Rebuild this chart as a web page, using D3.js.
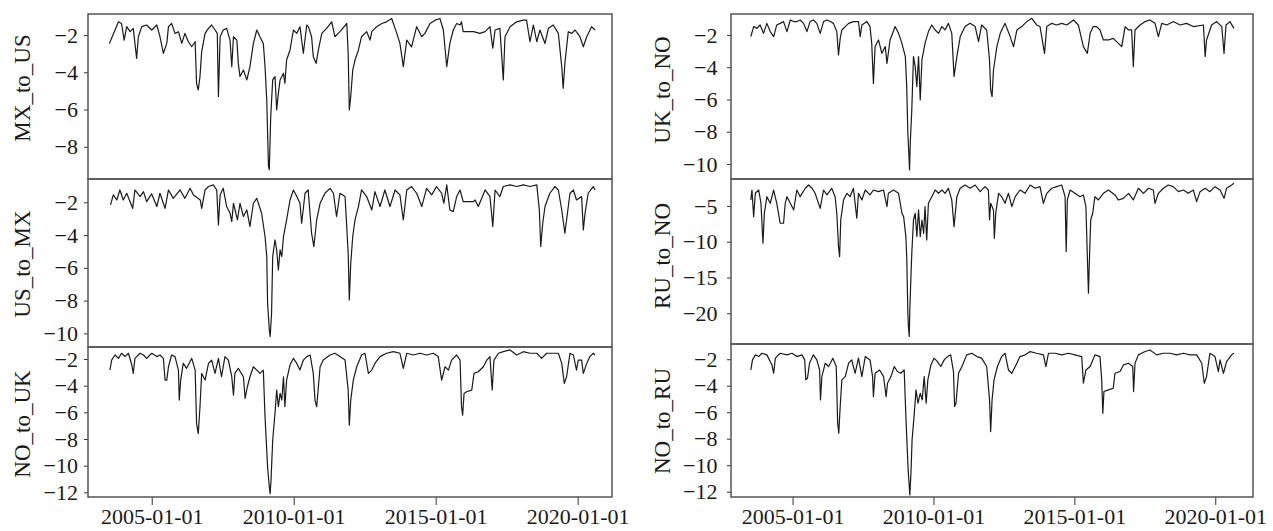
<!DOCTYPE html>
<html><head><meta charset="utf-8">
<script src="https://cdn.jsdelivr.net/npm/d3@7"></script>
<style>body{margin:0;background:#fff;} svg{display:block;}</style>
</head><body>
<svg id="c" width="1273" height="531"></svg>
<script>
// ---------------- DATA (decimal year, value) ----------------
const xTickLabels = ["2005-01-01","2010-01-01","2015-01-01","2020-01-01"];
const seriesNames = ["MX_to_US","US_to_MX","NO_to_UK","UK_to_NO","RU_to_NO","NO_to_RU"];

const ticksMXtoUS = [-2,-4,-6,-8];
const ticksUStoMX = [-2,-4,-6,-8,-10];
const ticksNOtoUK = [-2,-4,-6,-8,-10,-12];
const ticksUKtoNO = [-2,-4,-6,-8,-10];
const ticksRUtoNO = [-5,-10,-15,-20];
const ticksNOtoRU = [-2,-4,-6,-8,-10,-12];

const MX_to_US = [
[2003.51,-2.45],[2003.71,-1.73],[2003.83,-1.29],[2003.94,-1.38],[2004.03,-2.27],[2004.12,-1.55],[2004.24,-1.82],[2004.35,-1.64],[2004.47,-3.25],[2004.53,-2.09],[2004.65,-1.55],[2004.82,-1.46],[2005.0,-1.73],[2005.18,-1.46],[2005.29,-2.09],[2005.41,-2.98],[2005.53,-2.45],[2005.59,-1.55],[2005.70,-1.38],[2005.82,-1.91],[2005.94,-1.82],[2006.06,-2.45],[2006.17,-1.91],[2006.29,-2.36],[2006.41,-2.63],[2006.53,-2.36],[2006.58,-4.59],[2006.64,-4.95],[2006.70,-4.23],[2006.76,-2.89],[2006.88,-1.91],[2007.0,-1.64],[2007.11,-1.46],[2007.23,-1.73],[2007.31,-1.91],[2007.35,-5.30],[2007.41,-2.09],[2007.52,-1.73],[2007.64,-1.64],[2007.76,-2.27],[2007.82,-3.70],[2007.88,-2.09],[2008.0,-2.27],[2008.05,-3.52],[2008.11,-4.23],[2008.23,-3.88],[2008.35,-4.41],[2008.46,-3.70],[2008.58,-2.45],[2008.70,-1.73],[2008.81,-2.09],[2008.93,-2.45],[2008.99,-3.70],[2009.05,-5.48],[2009.11,-9.05],[2009.14,-9.23],[2009.19,-6.38],[2009.26,-4.41],[2009.34,-4.23],[2009.40,-6.02],[2009.46,-5.13],[2009.52,-4.41],[2009.64,-4.05],[2009.69,-4.59],[2009.75,-3.34],[2009.87,-2.80],[2009.99,-1.73],[2010.11,-1.91],[2010.22,-1.55],[2010.34,-2.98],[2010.46,-1.46],[2010.52,-1.55],[2010.63,-2.09],[2010.69,-3.16],[2010.79,-3.52],[2010.87,-2.80],[2010.99,-1.91],[2011.16,-1.64],[2011.34,-1.29],[2011.45,-2.09],[2011.63,-1.82],[2011.87,-1.38],[2011.92,-2.98],[2011.96,-6.02],[2012.01,-5.30],[2012.08,-3.88],[2012.16,-3.34],[2012.28,-2.80],[2012.39,-2.09],[2012.57,-1.82],[2012.69,-2.27],[2012.75,-1.82],[2012.92,-1.55],[2013.10,-1.38],[2013.27,-1.29],[2013.45,-1.11],[2013.63,-1.91],[2013.74,-2.45],[2013.86,-3.70],[2013.98,-2.27],[2014.15,-2.63],[2014.33,-1.55],[2014.51,-2.09],[2014.62,-1.91],[2014.80,-1.38],[2014.98,-1.20],[2015.15,-1.11],[2015.27,-1.73],[2015.39,-3.70],[2015.50,-2.45],[2015.62,-1.73],[2015.74,-1.38],[2015.86,-1.46],[2015.91,-1.29],[2015.97,-1.82],[2016.33,-1.82],[2016.56,-1.91],[2016.74,-1.82],[2016.91,-1.55],[2017.01,-2.71],[2017.09,-1.73],[2017.26,-1.64],[2017.38,-4.41],[2017.44,-2.09],[2017.62,-1.55],[2017.85,-1.29],[2018.09,-1.20],[2018.20,-1.20],[2018.32,-2.36],[2018.44,-1.46],[2018.56,-2.36],[2018.67,-1.73],[2018.85,-2.45],[2018.97,-1.64],[2019.14,-1.46],[2019.32,-1.91],[2019.44,-3.70],[2019.49,-4.86],[2019.55,-3.52],[2019.67,-1.82],[2019.79,-1.91],[2019.91,-1.73],[2020.08,-2.09],[2020.20,-2.63],[2020.32,-2.09],[2020.49,-1.55],[2020.61,-1.73]
];

const US_to_MX = [
[2003.55,-2.16],[2003.65,-1.55],[2003.77,-1.86],[2003.88,-1.25],[2004.00,-1.86],[2004.12,-1.45],[2004.33,-2.37],[2004.41,-1.25],[2004.59,-1.65],[2004.71,-1.35],[2004.82,-1.96],[2005.0,-1.49],[2005.18,-2.26],[2005.29,-1.45],[2005.47,-2.37],[2005.59,-1.25],[2005.76,-1.76],[2006.00,-1.25],[2006.17,-1.76],[2006.35,-1.15],[2006.47,-1.55],[2006.71,-1.86],[2006.76,-2.37],[2006.88,-1.25],[2007.0,-1.04],[2007.17,-0.94],[2007.29,-1.25],[2007.35,-3.38],[2007.41,-1.55],[2007.52,-1.15],[2007.64,-2.26],[2007.76,-2.67],[2007.82,-3.18],[2007.88,-2.06],[2008.02,-3.08],[2008.11,-2.06],[2008.23,-2.87],[2008.35,-2.47],[2008.46,-3.48],[2008.58,-2.06],[2008.70,-1.76],[2008.87,-2.67],[2008.99,-4.09],[2009.05,-5.31],[2009.08,-8.16],[2009.14,-9.78],[2009.17,-10.19],[2009.22,-8.77],[2009.26,-5.31],[2009.34,-4.30],[2009.40,-4.91],[2009.46,-6.13],[2009.52,-4.91],[2009.58,-5.31],[2009.64,-4.09],[2009.75,-3.08],[2009.87,-1.86],[2009.99,-1.25],[2010.11,-1.65],[2010.22,-2.06],[2010.28,-3.28],[2010.40,-1.45],[2010.51,-1.25],[2010.63,-3.89],[2010.71,-4.70],[2010.81,-3.08],[2010.93,-2.06],[2011.10,-1.45],[2011.28,-1.15],[2011.40,-1.45],[2011.51,-2.87],[2011.63,-1.45],[2011.81,-1.65],[2011.92,-5.11],[2011.96,-7.96],[2012.01,-5.72],[2012.08,-4.09],[2012.16,-3.08],[2012.28,-2.26],[2012.39,-1.25],[2012.57,-1.65],[2012.75,-2.47],[2012.86,-1.35],[2013.04,-2.26],[2013.21,-1.25],[2013.39,-2.26],[2013.57,-1.25],[2013.74,-1.55],[2013.86,-3.08],[2013.98,-1.25],[2014.15,-1.04],[2014.33,-1.45],[2014.51,-2.26],[2014.68,-1.15],[2014.86,-1.55],[2015.03,-1.04],[2015.21,-1.45],[2015.29,-2.06],[2015.39,-0.94],[2015.50,-2.47],[2015.62,-2.57],[2015.74,-1.65],[2015.86,-1.25],[2015.97,-1.96],[2016.33,-1.96],[2016.39,-1.86],[2016.50,-2.26],[2016.62,-1.76],[2016.74,-1.25],[2016.91,-1.65],[2017.01,-3.48],[2017.09,-1.25],[2017.26,-1.65],[2017.38,-1.04],[2017.62,-0.94],[2017.85,-1.04],[2018.09,-0.94],[2018.32,-1.04],[2018.56,-0.94],[2018.65,-2.47],[2018.70,-4.70],[2018.77,-3.28],[2018.85,-2.26],[2019.02,-1.45],[2019.20,-1.04],[2019.32,-1.25],[2019.44,-2.47],[2019.55,-3.89],[2019.61,-3.08],[2019.73,-1.45],[2019.85,-1.25],[2019.96,-1.86],[2020.14,-1.65],[2020.20,-3.69],[2020.26,-2.67],[2020.37,-1.45],[2020.55,-1.04],[2020.61,-1.25]
];

const NO_to_UK = [
[2003.53,-2.83],[2003.59,-2.08],[2003.71,-1.70],[2003.83,-1.95],[2003.94,-1.57],[2004.06,-1.82],[2004.18,-1.57],[2004.30,-2.45],[2004.35,-3.08],[2004.41,-1.95],[2004.59,-1.57],[2004.71,-1.70],[2004.82,-1.95],[2005.0,-1.57],[2005.18,-1.82],[2005.29,-1.70],[2005.41,-1.95],[2005.47,-3.58],[2005.53,-3.58],[2005.59,-2.58],[2005.70,-1.70],[2005.82,-1.82],[2005.94,-2.83],[2005.97,-5.08],[2006.02,-3.58],[2006.11,-2.33],[2006.23,-2.70],[2006.41,-1.95],[2006.53,-2.83],[2006.58,-6.84],[2006.64,-7.59],[2006.70,-5.58],[2006.76,-3.08],[2006.88,-3.58],[2007.0,-2.33],[2007.11,-2.08],[2007.23,-3.08],[2007.35,-1.95],[2007.46,-3.33],[2007.58,-1.82],[2007.70,-2.08],[2007.82,-3.33],[2007.88,-4.71],[2007.93,-3.08],[2008.05,-2.70],[2008.23,-3.33],[2008.29,-4.96],[2008.37,-4.08],[2008.46,-3.33],[2008.58,-2.58],[2008.70,-2.83],[2008.81,-3.08],[2008.93,-2.83],[2008.99,-6.34],[2009.05,-8.84],[2009.08,-10.10],[2009.14,-11.60],[2009.17,-12.10],[2009.20,-11.10],[2009.26,-8.09],[2009.34,-6.09],[2009.40,-4.33],[2009.46,-5.58],[2009.52,-4.58],[2009.58,-5.08],[2009.64,-3.33],[2009.69,-5.58],[2009.75,-3.58],[2009.87,-2.45],[2009.99,-1.95],[2010.11,-2.33],[2010.22,-2.83],[2010.34,-2.08],[2010.46,-1.82],[2010.58,-1.70],[2010.69,-3.08],[2010.75,-5.08],[2010.81,-5.58],[2010.93,-2.58],[2011.04,-2.08],[2011.28,-1.70],[2011.45,-1.57],[2011.63,-1.82],[2011.81,-2.08],[2011.92,-4.33],[2011.96,-6.96],[2012.01,-5.08],[2012.10,-3.58],[2012.22,-2.58],[2012.39,-1.70],[2012.51,-1.57],[2012.63,-3.08],[2012.75,-2.83],[2012.86,-2.33],[2013.04,-1.82],[2013.27,-1.57],[2013.51,-1.45],[2013.74,-1.57],[2013.86,-2.70],[2013.98,-1.57],[2014.21,-1.70],[2014.45,-1.57],[2014.68,-1.70],[2014.92,-1.57],[2015.09,-1.82],[2015.21,-3.58],[2015.33,-2.58],[2015.45,-2.83],[2015.56,-2.08],[2015.74,-1.70],[2015.86,-2.08],[2015.91,-5.58],[2015.95,-6.21],[2016.00,-4.58],[2016.09,-4.46],[2016.27,-4.33],[2016.35,-3.08],[2016.50,-2.96],[2016.68,-2.58],[2016.80,-2.08],[2016.91,-1.82],[2016.99,-4.33],[2017.05,-2.08],[2017.21,-1.57],[2017.38,-1.45],[2017.62,-1.32],[2017.85,-1.70],[2018.09,-1.45],[2018.32,-1.57],[2018.56,-1.57],[2018.73,-1.95],[2018.91,-1.57],[2019.14,-1.57],[2019.32,-1.57],[2019.44,-2.33],[2019.53,-3.83],[2019.61,-3.33],[2019.73,-1.57],[2019.85,-1.70],[2019.96,-2.83],[2020.02,-2.08],[2020.14,-2.08],[2020.20,-3.08],[2020.32,-2.33],[2020.43,-1.82],[2020.55,-1.57],[2020.61,-1.70]
];

const UK_to_NO = [
[2003.52,-2.10],[2003.62,-1.48],[2003.74,-1.59],[2003.85,-1.38],[2003.97,-1.90],[2004.09,-1.28],[2004.21,-1.79],[2004.33,-2.10],[2004.44,-1.38],[2004.56,-1.28],[2004.68,-1.17],[2004.80,-1.79],[2004.92,-1.07],[2005.04,-1.17],[2005.15,-1.17],[2005.27,-1.07],[2005.39,-1.28],[2005.51,-1.79],[2005.62,-1.17],[2005.74,-1.07],[2005.86,-1.28],[2005.98,-1.90],[2006.10,-1.17],[2006.22,-1.07],[2006.34,-1.17],[2006.45,-1.28],[2006.57,-1.79],[2006.63,-3.24],[2006.69,-2.21],[2006.75,-1.69],[2006.87,-1.48],[2006.99,-1.28],[2007.16,-1.17],[2007.34,-1.17],[2007.40,-2.10],[2007.46,-1.38],[2007.64,-1.17],[2007.75,-1.48],[2007.81,-2.52],[2007.87,-5.00],[2007.93,-2.72],[2008.05,-2.31],[2008.17,-3.14],[2008.29,-2.72],[2008.35,-3.76],[2008.46,-2.31],[2008.64,-1.48],[2008.76,-1.90],[2008.88,-2.52],[2009.00,-3.34],[2009.05,-5.20],[2009.09,-8.10],[2009.13,-9.54],[2009.15,-10.37],[2009.18,-8.51],[2009.23,-6.65],[2009.29,-3.34],[2009.35,-3.96],[2009.41,-5.20],[2009.47,-3.34],[2009.53,-6.03],[2009.59,-3.55],[2009.70,-2.52],[2009.82,-1.79],[2009.94,-1.38],[2010.06,-1.69],[2010.18,-1.90],[2010.30,-1.48],[2010.41,-1.69],[2010.53,-1.28],[2010.65,-1.90],[2010.73,-4.58],[2010.83,-3.34],[2010.95,-2.10],[2011.12,-1.48],[2011.30,-1.28],[2011.48,-1.48],[2011.60,-2.41],[2011.71,-1.38],[2011.89,-1.69],[2011.99,-3.55],[2012.03,-5.41],[2012.08,-5.82],[2012.13,-4.17],[2012.25,-2.72],[2012.37,-1.90],[2012.54,-1.28],[2012.72,-2.10],[2012.84,-2.72],[2012.96,-1.69],[2013.13,-1.48],[2013.31,-1.17],[2013.49,-0.97],[2013.66,-1.38],[2013.78,-1.48],[2013.94,-3.14],[2014.02,-1.48],[2014.20,-1.28],[2014.37,-1.38],[2014.55,-1.28],[2014.73,-1.38],[2014.97,-1.07],[2015.14,-1.38],[2015.32,-2.72],[2015.46,-3.14],[2015.56,-1.90],[2015.67,-1.48],[2015.79,-1.48],[2015.91,-1.69],[2016.03,-2.31],[2016.21,-2.31],[2016.38,-2.21],[2016.56,-2.52],[2016.68,-2.72],[2016.80,-1.48],[2016.92,-1.69],[2017.03,-1.69],[2017.09,-3.96],[2017.15,-1.69],[2017.33,-1.38],[2017.51,-1.17],[2017.68,-1.07],[2017.86,-1.28],[2017.98,-2.10],[2018.10,-1.28],[2018.28,-1.38],[2018.51,-1.17],[2018.75,-1.38],[2018.98,-1.28],[2019.22,-1.48],[2019.58,-1.38],[2019.64,-3.34],[2019.69,-2.31],[2019.87,-1.38],[2020.05,-1.17],[2020.23,-1.48],[2020.31,-3.14],[2020.38,-1.38],[2020.52,-1.17],[2020.66,-1.59]
];

const RU_to_NO = [
[2003.52,-4.16],[2003.56,-2.77],[2003.62,-6.49],[2003.68,-3.23],[2003.80,-2.77],[2003.88,-4.63],[2003.95,-10.21],[2004.00,-6.02],[2004.09,-3.70],[2004.21,-4.63],[2004.33,-2.77],[2004.44,-4.63],[2004.56,-7.42],[2004.68,-7.42],[2004.74,-4.63],[2004.80,-3.70],[2004.92,-4.63],[2005.04,-5.56],[2005.15,-2.77],[2005.27,-3.70],[2005.45,-2.53],[2005.57,-2.07],[2005.69,-2.53],[2005.80,-3.23],[2005.98,-5.33],[2006.10,-2.77],[2006.22,-3.46],[2006.39,-2.53],[2006.51,-3.70],[2006.57,-6.02],[2006.63,-10.68],[2006.67,-12.08],[2006.71,-6.96],[2006.81,-4.16],[2006.93,-3.23],[2007.04,-3.70],[2007.16,-2.53],[2007.28,-6.72],[2007.34,-3.23],[2007.46,-4.16],[2007.58,-2.77],[2007.75,-3.46],[2007.87,-2.77],[2008.05,-3.00],[2008.23,-2.77],[2008.35,-5.09],[2008.40,-3.23],[2008.58,-2.77],[2008.76,-3.23],[2008.88,-6.02],[2008.94,-6.49],[2009.02,-9.28],[2009.05,-12.08],[2009.09,-19.99],[2009.11,-21.85],[2009.14,-23.25],[2009.16,-19.53],[2009.20,-14.87],[2009.23,-11.61],[2009.29,-6.96],[2009.35,-6.02],[2009.41,-9.28],[2009.47,-5.56],[2009.53,-9.28],[2009.59,-6.96],[2009.65,-8.82],[2009.70,-5.09],[2009.76,-9.75],[2009.82,-4.63],[2009.94,-3.70],[2010.06,-2.77],[2010.18,-3.23],[2010.30,-2.77],[2010.41,-3.23],[2010.53,-2.53],[2010.65,-4.16],[2010.73,-7.89],[2010.83,-3.70],[2010.95,-2.53],[2011.12,-2.07],[2011.30,-2.53],[2011.48,-2.07],[2011.66,-3.00],[2011.83,-2.30],[2011.95,-2.77],[2011.99,-6.96],[2012.03,-4.63],[2012.13,-5.56],[2012.16,-9.52],[2012.21,-6.02],[2012.31,-3.23],[2012.42,-3.70],[2012.54,-4.63],[2012.66,-3.23],[2012.78,-5.09],[2012.90,-3.70],[2013.07,-2.77],[2013.25,-3.23],[2013.43,-2.07],[2013.61,-2.53],[2013.78,-2.30],[2013.90,-4.63],[2014.02,-3.23],[2014.20,-2.53],[2014.37,-2.30],[2014.55,-2.07],[2014.67,-3.70],[2014.71,-11.38],[2014.75,-4.16],[2014.85,-2.77],[2015.02,-3.23],[2015.20,-3.70],[2015.32,-3.46],[2015.41,-5.09],[2015.46,-12.08],[2015.50,-17.20],[2015.53,-13.01],[2015.58,-6.96],[2015.65,-6.02],[2015.73,-3.70],[2015.85,-4.16],[2016.03,-3.23],[2016.21,-2.77],[2016.44,-3.46],[2016.56,-4.16],[2016.74,-3.93],[2016.92,-3.23],[2017.09,-4.16],[2017.27,-2.53],[2017.45,-3.23],[2017.63,-2.53],[2017.80,-2.77],[2017.86,-4.63],[2017.98,-3.23],[2018.16,-2.53],[2018.33,-2.07],[2018.51,-2.30],[2018.69,-3.00],[2018.87,-2.77],[2019.04,-3.23],[2019.22,-2.77],[2019.34,-4.40],[2019.46,-3.00],[2019.64,-2.53],[2019.81,-3.00],[2019.99,-2.30],[2020.17,-2.77],[2020.31,-3.93],[2020.40,-2.53],[2020.58,-2.07],[2020.66,-1.83]
];

const NO_to_RU = [
[2003.52,-2.81],[2003.58,-2.05],[2003.68,-1.67],[2003.80,-1.80],[2003.91,-1.55],[2004.09,-1.67],[2004.27,-2.43],[2004.33,-3.06],[2004.39,-1.92],[2004.56,-1.55],[2004.80,-1.67],[2004.98,-1.55],[2005.15,-1.80],[2005.33,-1.67],[2005.43,-2.05],[2005.47,-3.56],[2005.53,-3.43],[2005.60,-2.30],[2005.74,-1.67],[2005.86,-2.05],[2005.96,-2.81],[2005.99,-5.07],[2006.04,-3.31],[2006.16,-2.30],[2006.28,-2.55],[2006.43,-1.92],[2006.55,-2.55],[2006.60,-6.83],[2006.64,-7.58],[2006.69,-5.57],[2006.75,-3.56],[2006.87,-3.31],[2006.99,-2.30],[2007.10,-2.05],[2007.22,-3.06],[2007.34,-1.92],[2007.46,-3.31],[2007.58,-1.80],[2007.75,-2.05],[2007.84,-3.31],[2007.87,-4.82],[2007.93,-3.06],[2008.09,-2.81],[2008.23,-3.31],[2008.32,-4.82],[2008.37,-3.81],[2008.49,-3.31],[2008.61,-2.55],[2008.72,-2.93],[2008.84,-3.06],[2008.96,-2.81],[2009.02,-6.33],[2009.07,-8.84],[2009.10,-10.35],[2009.14,-11.61],[2009.16,-12.24],[2009.20,-10.60],[2009.24,-8.09],[2009.31,-6.33],[2009.38,-4.31],[2009.45,-5.32],[2009.53,-4.57],[2009.60,-5.07],[2009.67,-3.31],[2009.74,-5.32],[2009.80,-3.56],[2009.91,-2.43],[2010.02,-1.92],[2010.14,-2.18],[2010.26,-2.55],[2010.38,-2.05],[2010.50,-1.80],[2010.61,-1.67],[2010.71,-2.93],[2010.75,-5.57],[2010.80,-5.32],[2010.89,-3.06],[2011.01,-2.55],[2011.18,-1.67],[2011.36,-1.55],[2011.54,-1.80],[2011.71,-1.92],[2011.89,-2.55],[2011.99,-5.07],[2012.03,-7.46],[2012.08,-5.07],[2012.15,-3.56],[2012.27,-2.55],[2012.42,-1.80],[2012.54,-1.55],[2012.66,-2.81],[2012.78,-3.06],[2012.90,-2.55],[2013.07,-1.80],[2013.25,-1.67],[2013.43,-1.42],[2013.66,-1.55],[2013.90,-1.67],[2013.99,-2.55],[2014.08,-1.55],[2014.32,-1.55],[2014.55,-1.67],[2014.79,-1.55],[2015.02,-1.67],[2015.26,-1.80],[2015.32,-3.81],[2015.41,-2.81],[2015.56,-2.55],[2015.73,-1.67],[2015.91,-1.80],[2015.97,-3.56],[2016.01,-6.08],[2016.05,-4.44],[2016.21,-4.31],[2016.38,-4.19],[2016.44,-3.06],[2016.62,-2.93],[2016.74,-2.43],[2016.92,-2.30],[2017.07,-2.55],[2017.10,-4.44],[2017.15,-2.30],[2017.27,-1.67],[2017.51,-1.42],[2017.68,-1.30],[2017.92,-1.67],[2018.16,-1.55],[2018.39,-1.55],[2018.63,-1.67],[2018.87,-1.55],[2019.10,-1.67],[2019.34,-1.67],[2019.52,-2.30],[2019.61,-3.81],[2019.69,-3.31],[2019.81,-1.55],[2019.99,-1.80],[2020.11,-2.93],[2020.17,-2.05],[2020.29,-3.06],[2020.40,-2.18],[2020.58,-1.67],[2020.66,-1.55]
];

// ---------------- LAYOUT ----------------
const cols = [
  {x0: 88, x1: 612, d0: 2002.757, d1: 2021.208, titleX: 22, labelRight: 78},
  {x0: 731, x1: 1253, d0: 2002.816, d1: 2021.337, titleX: 662, labelRight: 717.5}
];
const panels = [
  {name: seriesNames[0], data: MX_to_US, col: 0, top: 14,  bottom: 179, yTop: -0.87, yBot: -9.73,  ticks: ticksMXtoUS, titleY: 88},
  {name: seriesNames[1], data: US_to_MX, col: 0, top: 179, bottom: 347, yTop: -0.58, yBot: -10.83, ticks: ticksUStoMX, titleY: 264},
  {name: seriesNames[2], data: NO_to_UK, col: 0, top: 347, bottom: 497, yTop: -1.10, yBot: -12.35, ticks: ticksNOtoUK, titleY: 424, xAxis: true},
  {name: seriesNames[3], data: UK_to_NO, col: 1, top: 14,  bottom: 179, yTop: -0.70, yBot: -10.93, ticks: ticksUKtoNO, titleY: 90},
  {name: seriesNames[4], data: RU_to_NO, col: 1, top: 179, bottom: 344, yTop: -1.23, yBot: -24.3,  ticks: ticksRUtoNO, titleY: 256},
  {name: seriesNames[5], data: NO_to_RU, col: 1, top: 344, bottom: 497, yTop: -0.85, yBot: -12.4,  ticks: ticksNOtoRU, titleY: 421, xAxis: true}
];

function toDate(y) {
  const Y = Math.floor(y);
  const a = Date.UTC(Y, 0, 1), b = Date.UTC(Y + 1, 0, 1);
  return new Date(a + (y - Y) * (b - a));
}
const parse = d3.utcParse("%Y-%m-%d");
const fmt = d3.utcFormat("%Y-%m-%d");

const svg = d3.select("#c");
svg.append("rect").attr("width", 1273).attr("height", 531).attr("fill", "#fff");

const FONT = '"Liberation Serif", "Times New Roman", serif';
const TICK = 4;

panels.forEach(p => {
  const c = cols[p.col];
  const x = d3.scaleUtc().domain([toDate(c.d0), toDate(c.d1)]).range([c.x0, c.x1]);
  const y = d3.scaleLinear().domain([p.yBot, p.yTop]).range([p.bottom, p.top]);
  const g = svg.append("g");

  const line = d3.line().x(d => x(toDate(d[0]))).y(d => y(d[1]));
  g.append("path").datum(p.data)
    .attr("d", line).attr("fill", "none")
    .attr("stroke", "#1a1a1a").attr("stroke-width", 1.2)
    .attr("stroke-linejoin", "round");

  const ya = g.append("g").attr("transform", `translate(${c.x0},0)`)
    .call(d3.axisLeft(y).tickValues(p.ticks).tickSize(TICK).tickPadding(c.x0 - c.labelRight - TICK)
      .tickFormat(d => d3.format("d")(d).replace("-", "\u2212")));
  ya.attr("font-family", null).attr("font-size", null);
  ya.select(".domain").remove();
  ya.selectAll(".tick line").attr("stroke", "#333").attr("stroke-width", 1);
  ya.selectAll(".tick text").style("font-family", FONT).style("font-size", "22px").attr("fill", "#1a1a1a");

  if (p.xAxis) {
    const xa = g.append("g").attr("transform", `translate(0,${p.bottom})`)
      .call(d3.axisBottom(x).tickValues(xTickLabels.map(parse)).tickSize(8).tickPadding(3).tickFormat(fmt));
    xa.attr("font-family", null).attr("font-size", null);
    xa.select(".domain").remove();
    xa.selectAll(".tick line").attr("stroke", "#333").attr("stroke-width", 1);
    xa.selectAll(".tick text").style("font-family", FONT).style("font-size", "22px").attr("fill", "#1a1a1a");
  }

  g.append("rect").attr("x", c.x0).attr("y", p.top)
    .attr("width", c.x1 - c.x0).attr("height", p.bottom - p.top)
    .attr("fill", "none").attr("stroke", "#555").attr("stroke-width", 1.5);

  g.append("text")
    .attr("transform", `translate(${c.titleX},${p.titleY}) rotate(-90)`)
    .attr("text-anchor", "middle").attr("dominant-baseline", "central")
    .style("font-family", FONT).style("font-size", "23px").attr("fill", "#1a1a1a")
    .text(p.name);
});
</script>
</body></html>
